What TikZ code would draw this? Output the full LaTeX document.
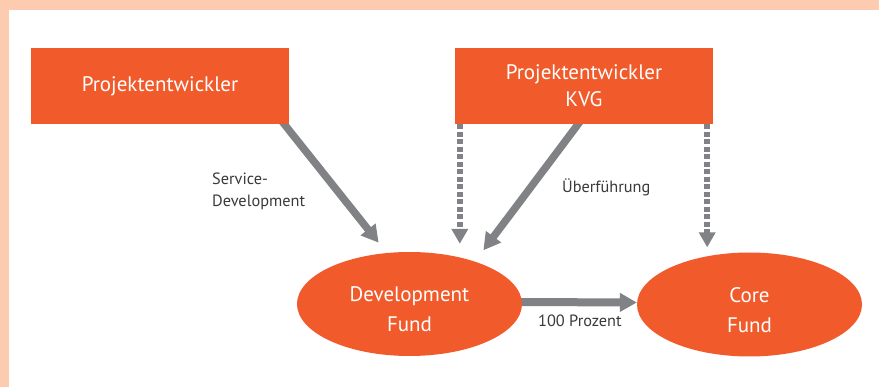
\documentclass[tikz,border=0pt]{standalone}
\usepackage{fontspec}
\setmainfont{PT Sans}
\usetikzlibrary{arrows.meta,shapes.geometric,backgrounds}
\definecolor{framepeach}{HTML}{FCCBB0}
\definecolor{brand}{HTML}{F15A2B}
\definecolor{arrowgray}{HTML}{808285}
\definecolor{labelgray}{HTML}{3A3A3A}
% two centred lines, first baseline placed 2pt above the node centre
\newcommand{\fundlines}[2]{\raisebox{2pt}[0pt][0pt]{\begin{tabular}[t]{@{}c@{}}#1\\#2\end{tabular}}}
\begin{document}
\begin{tikzpicture}[x=1pt,y=-1pt,
  box/.style={rectangle, fill=brand, minimum width=258pt, minimum height=76pt,
    inner sep=0pt, text=white, align=center, font=\fontsize{21}{27}\selectfont},
  fund/.style={ellipse, fill=brand, minimum width=225pt, minimum height=104pt,
    inner sep=0pt, text=white, font=\fontsize{21}{30}\selectfont},
  lbl/.style={inner sep=0pt, text=labelgray, font=\fontsize{16.3}{22}\selectfont},
  solidarrow/.style={draw=arrowgray, line width=7.5pt,
    -{Triangle[length=17pt,width=18pt]}},
  dashedarrow/.style={draw=arrowgray, line width=5.5pt, dash pattern=on 5pt off 2.5pt,
    -{Triangle[length=15pt,width=16pt]}}]

% frame and canvas
\begin{scope}[on background layer]
  \fill[framepeach] (0,0) rectangle (879,387);
  \fill[white] (9,10) rectangle (879,387);
\end{scope}
\useasboundingbox (0,0) rectangle (879,387);

% boxes and funds
\node[box] (b1) at (160,86) {Projektentwickler};
\node[box] (b2) at (584,86) {Projektentwickler\\KVG};
\node[fund] (df) at (409.5,304) {\fundlines{Development}{Fund}};
\node[fund] (cf) at (749.5,304.5) {\fundlines{Core}{Fund}};

% labels
\node[lbl, anchor=north west, align=left] (l1) at (212,173) {Service-\\Development};
\node[lbl, anchor=base west] (l2) at (562,193) {Überführung};
\node[lbl, anchor=base west] (l3) at (538,327) {100 Prozent};

% connectors
\coordinate (s1) at ([shift={(-9.7,-6)}]b1.south east);
\coordinate (s3) at ([shift={(-1.4,-6)}]b2.south);
\coordinate (d1) at ([xshift=5pt]b2.south west);
\coordinate (d2) at ([xshift=-6pt]b2.south east);
\begin{scope}[on background layer]
  \draw[solidarrow, shorten >=13pt] (s1) -- (df.114.7);
  \draw[solidarrow, shorten >=14pt] (s3) -- (df.33.8);
  \draw[dashedarrow, shorten >=8pt] (d1) -- (d1 |- df.north);
  \draw[dashedarrow, shorten >=5pt] (d2) -- (d2 |- cf.north);
  \draw[solidarrow, line width=8pt] ([shift={(-5,-2)}]df.east) -- ([yshift=2pt]cf.west);
\end{scope}
\end{tikzpicture}
\end{document}
